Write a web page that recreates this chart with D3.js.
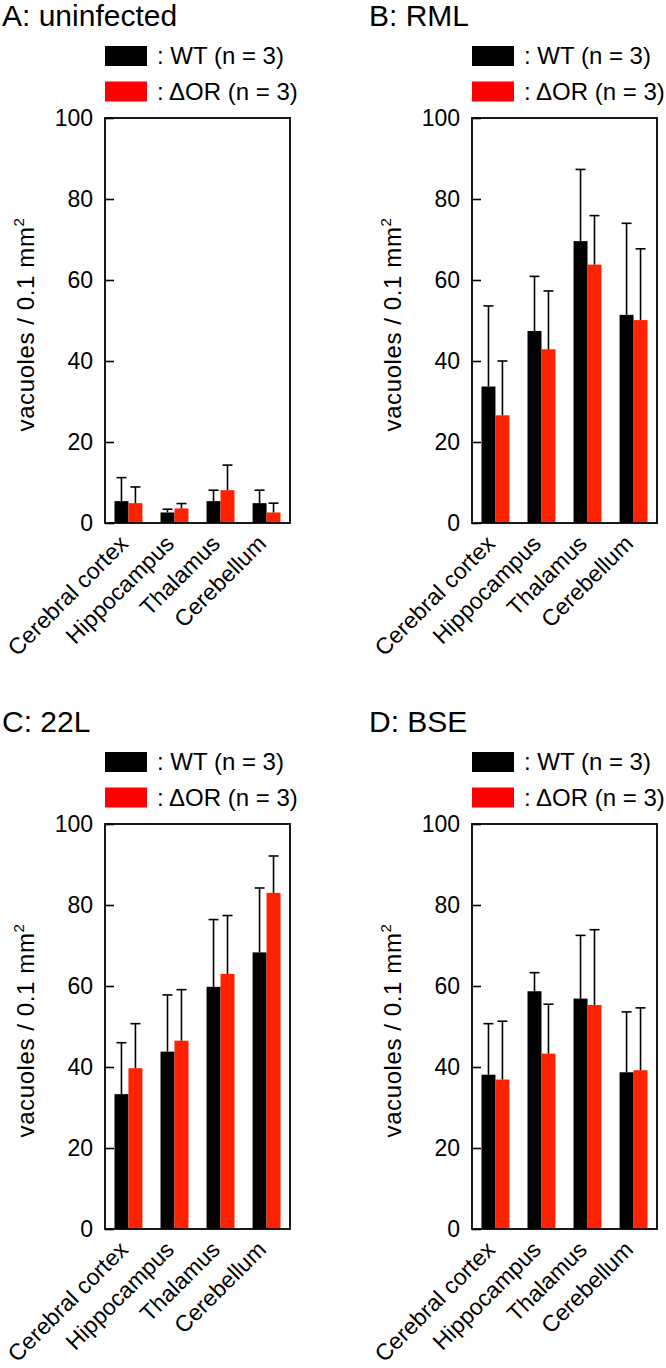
<!DOCTYPE html>
<html>
<head>
<meta charset="utf-8">
<script src="https://cdn.jsdelivr.net/npm/d3@7"></script>
<style>
  html, body { margin: 0; padding: 0; background: #fff; }
  svg { display: block; }
  text { font-family: "Liberation Sans", Arial, Helvetica, sans-serif; fill: #000; }
</style>
</head>
<body>
<svg id="chart" width="666" height="1368"></svg>
<script>
// ---- data ----
const categories = ["Cerebral cortex", "Hippocampus", "Thalamus", "Cerebellum"];
const panelTitles = ["A: uninfected", "B: RML", "C: 22L", "D: BSE"];
const seriesNames = ["WT (n = 3)", "ΔOR (n = 3)"];
const yTicks = [0, 20, 40, 60, 80, 100];

const wtMeanA = [5.4, 2.6, 5.4, 4.9];
const wtSdA   = [5.8, 0.8, 2.7, 3.2];
const orMeanA = [4.9, 3.6, 8.1, 2.6];
const orSdA   = [4.0, 1.2, 6.2, 2.3];

const wtMeanB = [33.7, 47.4, 69.6, 51.4];
const wtSdB   = [19.9, 13.5, 17.7, 22.6];
const orMeanB = [26.6, 42.9, 63.8, 50.1];
const orSdB   = [13.4, 14.4, 12.1, 17.6];

const wtMeanC = [33.3, 43.8, 59.8, 68.3];
const wtSdC   = [12.7, 14.0, 16.6, 15.9];
const orMeanC = [39.7, 46.5, 63.0, 83.0];
const orSdC   = [11.0, 12.6, 14.4, 9.1];

const wtMeanD = [38.1, 58.7, 56.9, 38.7];
const wtSdD   = [12.6, 4.6, 15.6, 14.9];
const orMeanD = [36.9, 43.3, 55.3, 39.2];
const orSdD   = [14.4, 12.2, 18.6, 15.4];

// ---- layout ----
const barColors = ["#000000", "#ff2200"];
const legendColors = ["#000000", "#ff0000"];
const panels = [
  { title: panelTitles[0], left: 105, top: 118, wt: [wtMeanA, wtSdA], or: [orMeanA, orSdA] },
  { title: panelTitles[1], left: 472, top: 118, wt: [wtMeanB, wtSdB], or: [orMeanB, orSdB] },
  { title: panelTitles[2], left: 105, top: 824, wt: [wtMeanC, wtSdC], or: [orMeanC, orSdC] },
  { title: panelTitles[3], left: 472, top: 824, wt: [wtMeanD, wtSdD], or: [orMeanD, orSdD] }
];
const W = 185, H = 405;

const svg = d3.select("#chart");

panels.forEach(p => {
  const g = svg.append("g").attr("transform", `translate(${p.left},${p.top})`);
  const x0 = d3.scaleBand().domain(categories).range([0, W]).paddingInner(0.393).paddingOuter(0.206);
  const x1 = d3.scaleBand().domain([0, 1]).range([0, x0.bandwidth()]);
  const y = d3.scaleLinear().domain([0, 100]).range([H, 0]);

  // title
  g.append("text").attr("x", -103).attr("y", -92)
    .attr("font-size", 30).text(p.title);

  // legend
  seriesNames.forEach((s, i) => {
    const ly = -72 + i * 35.5;
    g.append("rect").attr("x", 0).attr("y", ly).attr("width", 42).attr("height", 20)
      .attr("fill", legendColors[i]);
    g.append("text").attr("x", 52).attr("y", ly + 18).attr("font-size", 24)
      .text(": " + s);
  });

  // bars
  const series = [p.wt, p.or];
  series.forEach((s, si) => {
    const [means, sds] = s;
    categories.forEach((c, ci) => {
      const bx = x0(c) + x1(si);
      const bw = x1.bandwidth();
      g.append("rect").attr("x", bx).attr("y", y(means[ci]))
        .attr("width", bw).attr("height", y(0) - y(means[ci]))
        .attr("fill", barColors[si]);
      const cx = bx + bw / 2;
      const top = y(means[ci] + sds[ci]);
      g.append("line").attr("x1", cx).attr("x2", cx)
        .attr("y1", y(means[ci])).attr("y2", top)
        .attr("stroke", "#000").attr("stroke-width", 1.6);
      g.append("line").attr("x1", cx - 5).attr("x2", cx + 5)
        .attr("y1", top).attr("y2", top)
        .attr("stroke", "#000").attr("stroke-width", 1.6);
    });
  });

  // y axis with inward ticks
  const yAxis = d3.axisLeft(y).tickValues(yTicks).tickSizeInner(-9).tickSizeOuter(0).tickPadding(12);
  const ax = g.append("g").call(yAxis);
  ax.select(".domain").remove();
  ax.selectAll(".tick line").attr("stroke", "#000").attr("stroke-width", 1.6);
  ax.selectAll(".tick text").attr("font-size", 23).attr("font-family", "Liberation Sans, Arial, sans-serif").attr("fill", "#000");

  // frame
  g.append("rect").attr("x", 0).attr("y", 0).attr("width", W).attr("height", H)
    .attr("fill", "none").attr("stroke", "#000").attr("stroke-width", 1.8);

  // y label
  const yl = g.append("text")
    .attr("transform", `translate(-71,${H / 2 + 4}) rotate(-90)`)
    .attr("text-anchor", "middle").attr("font-size", 24).attr("letter-spacing", 0.6);
  yl.append("tspan").text("vacuoles / 0.1 mm");
  yl.append("tspan").attr("dy", -10).attr("font-size", 15).text("2");

  // category labels
  categories.forEach(c => {
    g.append("text")
      .attr("transform", `translate(${x0(c) + x0.bandwidth() / 2 + 1},${H + 22}) rotate(-45)`)
      .attr("text-anchor", "end").attr("font-size", 23).attr("letter-spacing", 0.1)
      .text(c);
  });
});
</script>
</body>
</html>
